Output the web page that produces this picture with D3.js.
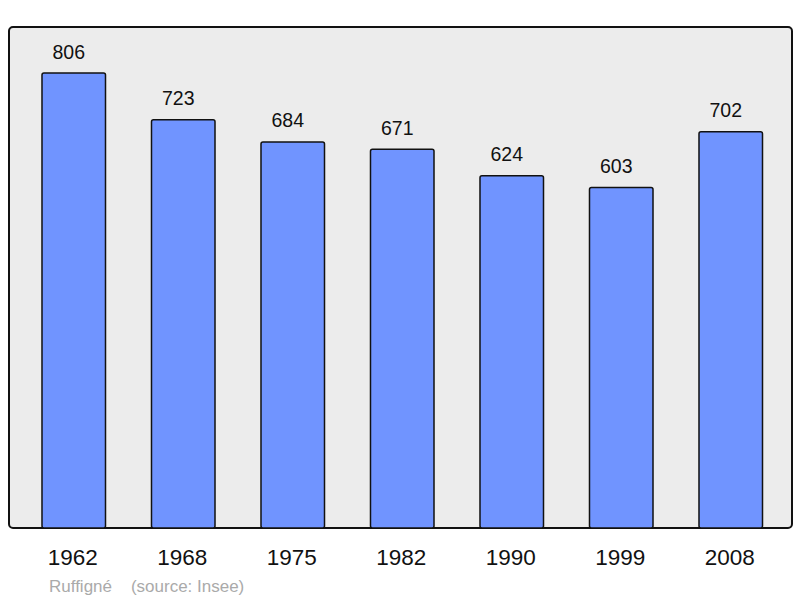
<!DOCTYPE html>
<html><head><meta charset="utf-8">
<script src="https://cdn.jsdelivr.net/npm/d3@7"></script>
<style>body{margin:0;background:#fff}svg{display:block}</style>
</head><body>
<script>
const years = ["1962","1968","1975","1982","1990","1999","2008"];
const population = [806,723,684,671,624,603,702];
const title = "Ruffigné";
const source = "(source: Insee)";

const W = 800, H = 598;
const svg = d3.select("body").append("svg").attr("width", W).attr("height", H);
const font = "'Liberation Sans', Arial, sans-serif";

const panel = {x0: 9, y0: 27, x1: 792, y1: 528};
svg.append("rect").attr("x", panel.x0).attr("y", panel.y0)
  .attr("width", panel.x1 - panel.x0).attr("height", panel.y1 - panel.y0)
  .attr("rx", 4).attr("fill", "#ececec").attr("stroke", "#111").attr("stroke-width", 2);

const x = d3.scaleBand().domain(years).range([19, 785.5]).paddingInner(0.42).paddingOuter(0.21);
const y = d3.scaleLinear().domain([0, 887.5]).range([panel.y1, panel.y0]);

svg.selectAll("rect.bar").data(population).join("rect").attr("class", "bar")
  .attr("x", (d, i) => x(years[i]))
  .attr("y", d => y(d))
  .attr("width", x.bandwidth())
  .attr("height", d => y(0) - y(d))
  .attr("rx", 2)
  .attr("fill", "#7094ff").attr("stroke", "#111").attr("stroke-width", 1.5);

svg.selectAll("text.val").data(population).join("text").attr("class", "val")
  .attr("x", (d, i) => x(years[i]) + x.bandwidth() / 2 - 5)
  .attr("y", d => y(d) - 14.5)
  .attr("text-anchor", "middle").attr("font-family", font).attr("font-size", 19.5).attr("fill", "#111")
  .text(d => d);

svg.selectAll("text.year").data(years).join("text").attr("class", "year")
  .attr("x", d => x(d) + x.bandwidth() / 2 - 1)
  .attr("y", 565)
  .attr("text-anchor", "middle").attr("font-family", font).attr("font-size", 22.5).attr("fill", "#111")
  .text(d => d);

svg.append("text").attr("x", 49).attr("y", 591.5).attr("font-family", font).attr("font-size", 17)
  .attr("fill", "#aaa").attr("xml:space", "preserve").text(title + "    " + source);
</script>
</body></html>
